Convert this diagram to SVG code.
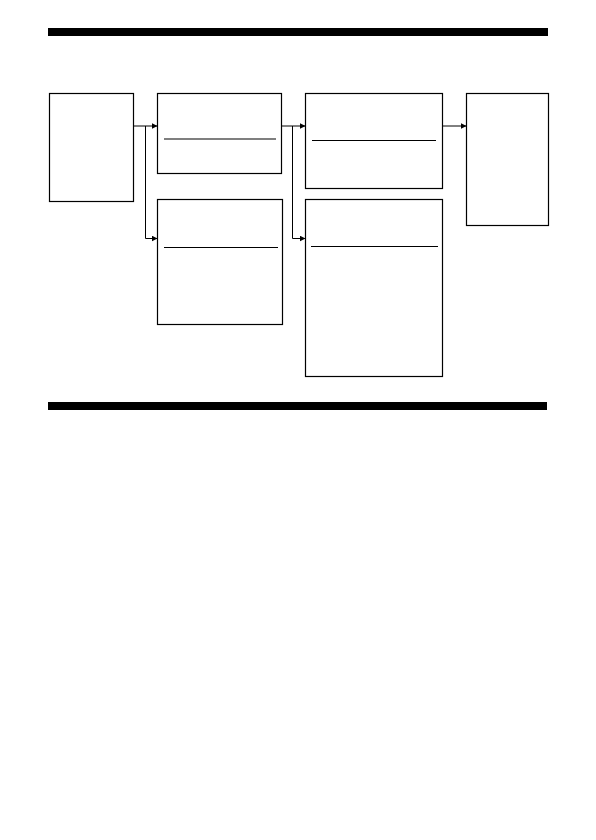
<svg xmlns="http://www.w3.org/2000/svg" width="596" height="840" viewBox="0 0 596 840">
<defs>
<marker id="arr" markerWidth="6" markerHeight="6" refX="5.5" refY="3" orient="auto" markerUnits="userSpaceOnUse">
<path d="M0,0 L6,3 L0,6 Z" fill="#000"/>
</marker>
</defs>
<style>
.box{fill:#fff;stroke:#000;stroke-width:1.2}
.div{stroke:#000;stroke-width:1.2}
.bar{fill:#000}
.con{fill:none;stroke:#000;stroke-width:1}
</style>
<rect width="596" height="840" fill="#fff"/>
<rect class="bar" x="48" y="28" width="500" height="8"/>
<rect class="bar" x="48" y="402" width="499" height="8"/>
<g id="nodeA"><rect class="box" x="49.5" y="93.5" width="84" height="108"/></g>
<g id="nodeB"><rect class="box" x="157.5" y="93.5" width="124" height="80"/><line class="div" x1="164" y1="139" x2="276" y2="139"/></g>
<g id="nodeC"><rect class="box" x="157.5" y="199.5" width="125" height="125"/><line class="div" x1="164" y1="247.5" x2="278" y2="247.5"/></g>
<g id="nodeD"><rect class="box" x="305.5" y="93.5" width="137" height="95"/><line class="div" x1="312" y1="140.5" x2="436" y2="140.5"/></g>
<g id="nodeF"><rect class="box" x="305.5" y="199.5" width="137" height="177"/><line class="div" x1="311" y1="246.5" x2="438" y2="246.5"/></g>
<g id="nodeE"><rect class="box" x="466.5" y="93.5" width="82" height="132"/></g>
<g id="connectors">
<path class="con" d="M133.5,126 H157" marker-end="url(#arr)"/>
<path class="con" d="M145.5,126 V238.5 H157" marker-end="url(#arr)"/>
<path class="con" d="M281.5,126 H305" marker-end="url(#arr)"/>
<path class="con" d="M292.5,126 V238.5 H305" marker-end="url(#arr)"/>
<path class="con" d="M442.5,126 H466" marker-end="url(#arr)"/>
</g>
</svg>
